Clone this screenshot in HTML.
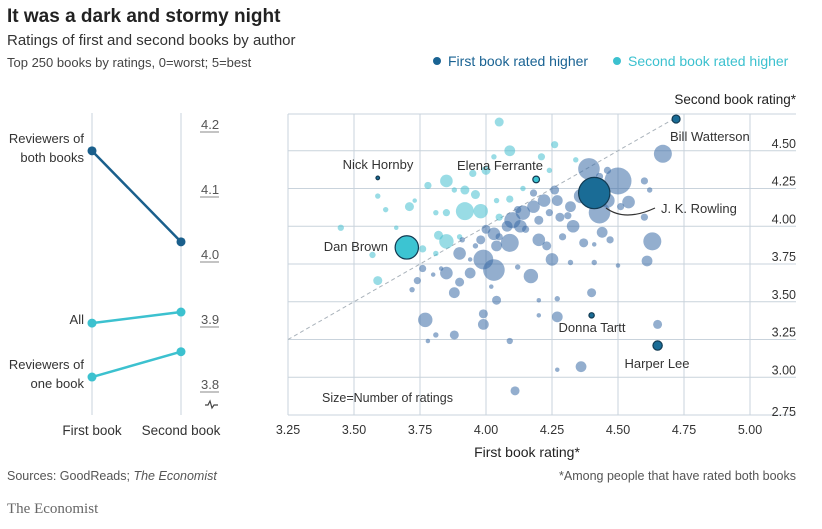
<!DOCTYPE html>
<html><head><meta charset="utf-8"><style>
html,body{margin:0;padding:0;background:#fff;}
svg{display:block;font-family:"Liberation Sans",sans-serif;}
</style></head><body>
<svg id="c" width="822" height="529" viewBox="0 0 822 529">
<text x="7" y="22" font-size="19" font-weight="bold" fill="#222">It was a dark and stormy night</text>
<text x="7" y="45" font-size="15" fill="#333">Ratings of first and second books by author</text>
<text x="7" y="67" font-size="13" fill="#444">Top 250 books by ratings, 0=worst; 5=best</text>
<g>
<circle cx="437" cy="61" r="4" fill="#1a6393"/>
<text x="448" y="66" font-size="14" fill="#1a6393">First book rated higher</text>
<circle cx="617" cy="61" r="4" fill="#3cc1cf"/>
<text x="628" y="66" font-size="14" fill="#3cc1cf">Second book rated higher</text>
</g>
<g id="left"></g>
<g id="scatter"></g>
<text x="7" y="480" font-size="12.5" fill="#555">Sources: GoodReads; <tspan font-style="italic">The Economist</tspan></text>
<text x="796" y="480" font-size="12.5" fill="#555" text-anchor="end">*Among people that have rated both books</text>
<text x="7" y="513" font-size="15" fill="#666" font-family="Liberation Serif,serif">The Economist</text>
</svg>
<script>
// slope chart data
const slopeSeries = ["Reviewers of both books","All","Reviewers of one book"];
const slopeFirst = [4.171, 3.906, 3.823];
const slopeSecond = [4.031, 3.923, 3.862];
const slopeTicks = [4.2, 4.1, 4.0, 3.9, 3.8];
// scatter data
const lightX=[4.05,4.09,4.26,4.21,4.03,3.85,3.78,3.59,3.62,3.71,3.73,3.81,3.85,3.88,3.92,3.96,3.92,3.98,3.95,4.00,4.05,4.09,4.04,3.45,3.66,3.57,3.59,3.76,3.82,3.85,3.81,4.24,4.14,4.34,3.90];
const lightY=[4.69,4.50,4.54,4.46,4.46,4.30,4.27,4.20,4.11,4.13,4.17,4.09,4.09,4.24,4.24,4.21,4.10,4.10,4.35,4.37,4.06,4.18,4.17,3.99,3.99,3.81,3.64,3.85,3.94,3.90,3.82,4.37,4.25,4.44,3.93];
const lightS=[10,12,8,8,6,14,8,6,6,10,5,6,8,6,10,10,20,16,8,10,8,8,6,7,5,7,10,8,10,16,6,6,6,6,6];
const darkX=[4.39,4.50,4.67,4.60,4.62,4.54,4.46,4.43,4.36,4.32,4.26,4.22,4.18,4.14,4.10,4.13,4.08,4.03,4.00,3.98,4.09,4.04,3.99,4.03,3.90,3.94,3.85,3.90,3.88,3.76,3.74,3.72,3.80,3.94,3.83,4.17,4.12,4.20,4.23,4.25,4.32,4.41,4.50,4.44,4.47,4.37,4.41,4.61,4.63,4.29,4.33,4.28,4.27,4.18,4.04,4.02,4.20,4.27,4.40,3.99,3.99,3.77,3.88,3.81,3.78,4.09,4.20,4.27,4.65,4.27,4.36,4.11,4.60,4.51,4.43,4.46,3.91,3.96,4.05,4.15,4.12,4.20,4.24,4.31];
const darkY=[4.38,4.30,4.48,4.30,4.24,4.16,4.37,4.33,4.20,4.13,4.24,4.17,4.13,4.09,4.04,4.00,4.00,3.95,3.98,3.91,3.89,3.87,3.78,3.71,3.82,3.69,3.69,3.63,3.56,3.72,3.64,3.58,3.68,3.78,3.72,3.67,3.73,3.91,3.87,3.78,3.76,3.76,3.74,3.96,3.91,3.89,3.88,3.77,3.90,3.93,4.00,4.06,4.17,4.22,3.51,3.60,3.51,3.52,3.56,3.42,3.35,3.38,3.28,3.28,3.24,3.24,3.41,3.40,3.35,3.05,3.07,2.91,4.06,4.13,4.09,4.17,3.91,3.87,3.93,3.98,4.11,4.04,4.09,4.07];
const darkS=[24,30,20,8,6,14,8,8,16,12,10,14,14,16,18,14,12,14,10,10,20,12,22,24,14,12,14,10,12,8,8,6,5,5,5,16,6,14,10,14,6,6,5,12,8,10,5,12,20,8,14,10,12,8,10,5,5,6,10,10,12,16,10,6,5,7,5,12,10,5,12,10,8,8,24,16,6,6,8,8,8,10,8,8];
const namedLabels=["Bill Watterson","J. K. Rowling","Dan Brown","Elena Ferrante","Nick Hornby","Donna Tartt","Harper Lee"];
const namedX=[4.72,4.41,3.70,4.19,3.59,4.40,4.65];
const namedY=[4.71,4.22,3.86,4.31,4.32,3.41,3.21];
const namedS=[12,47,35,10,5,8,14];
const namedType=["first","first","second","second","first","first","first"];
const xTicks=[3.25,3.50,3.75,4.00,4.25,4.50,4.75,5.00];
const yTicks=[4.50,4.25,4.00,3.75,3.50,3.25,3.00,2.75];

const NS="http://www.w3.org/2000/svg";
function mk(p,tag,a,txt){const e=document.createElementNS(NS,tag);for(const k in a)e.setAttribute(k,a[k]);if(txt!==undefined)e.textContent=txt;p.appendChild(e);return e;}

// ---- slope chart
const L=document.getElementById('left');
const lx1=92,lx2=181;
const ly=v=>132+(4.2-v)*650;
let e;
e=mk(L,'line',{x1:lx1,x2:lx1,y1:113,y2:415,stroke:'#c9d3dc'});


e=mk(L,'line',{x1:lx2,x2:lx2,y1:113,y2:415,stroke:'#c9d3dc'});


slopeTicks.forEach(t=>{
  e=mk(L,'text',{x:201,y:ly(t)-3,'font-size':13,fill:'#555'},t.toFixed(1));
  
  
  e=mk(L,'line',{x1:200,x2:219,y1:ly(t),y2:ly(t),stroke:'#888'});
  
  
});
e=mk(L,'path',{d:'M205 405 l3 0 l2 -4 l2 7 l2 -3 l4 0',fill:'none',stroke:'#444','stroke-width':1.2});


const slopeCol=['#1a5f8c','#3cc1cf','#3cc1cf'];
slopeSeries.forEach((s,i)=>{
  const c=slopeCol[i];
  e=mk(L,'line',{x1:lx1,y1:ly(slopeFirst[i]),x2:lx2,y2:ly(slopeSecond[i]),stroke:c,'stroke-width':2.5});
  
  
  e=mk(L,'circle',{cx:lx1,cy:ly(slopeFirst[i]),r:4.5,fill:c});
  
  
  e=mk(L,'circle',{cx:lx2,cy:ly(slopeSecond[i]),r:4.5,fill:c});
  
  
  const words=s==='All'?['All']:[s.replace(/ (both|one) books?$/,''),s.replace(/^Reviewers of /,'')];
  const y0=ly(slopeFirst[i])+5-(words.length-1)*9;
  words.forEach((w,j)=>{
    e=mk(L,'text',{x:84,y:y0+j*19-4,'font-size':13,fill:'#333','text-anchor':'end'},w);
    
    
  });
});
e=mk(L,'text',{x:lx1,y:435,'font-size':13.5,fill:'#333','text-anchor':'middle'},'First book');


e=mk(L,'text',{x:lx2,y:435,'font-size':13.5,fill:'#333','text-anchor':'middle'},'Second book');



// ---- scatter
const S=document.getElementById('scatter');
const X=v=>288+(v-3.25)*264;
const Y=v=>415-(v-2.75)*151;
const R=s=>Math.max(2,s/3*1.35);
const RN=s=>Math.max(1.8,s/3);
e=mk(S,'line',{x1:288,x2:796,y1:114,y2:114,stroke:'#c9d3dc'});


xTicks.forEach(t=>{
  e=mk(S,'line',{x1:X(t),x2:X(t),y1:114,y2:415,stroke:'#c9d3dc'});
  
  
  e=mk(S,'text',{x:X(t),y:434,'font-size':12.5,fill:'#333','text-anchor':'middle'},t.toFixed(2));
  
  
});
yTicks.forEach(t=>{
  e=mk(S,'line',{x1:288,x2:796,y1:Y(t),y2:Y(t),stroke:'#c9d3dc'});
  
  
  e=mk(S,'text',{x:796,y:Y(t)-3-(t===2.75?-4:0),'font-size':12.5,fill:'#333','text-anchor':'end'},t.toFixed(2));
  
  
});
e=mk(S,'line',{x1:X(3.25),y1:Y(3.25),x2:X(4.72),y2:Y(4.72),stroke:'#aab3bb','stroke-dasharray':'4 3'});


lightX.forEach((v,i)=>{
  e=mk(S,'circle',{cx:X(v),cy:Y(lightY[i]),r:R(lightS[i]),fill:'#46c0cf','fill-opacity':0.55});
  
  
});
darkX.forEach((v,i)=>{
  e=mk(S,'circle',{cx:X(v),cy:Y(darkY[i]),r:R(darkS[i]),fill:'#3a6ba5','fill-opacity':0.55});
  
  
});
namedLabels.forEach((n,i)=>{
  const f=namedType[i]==='first'?'#1a6c96':'#3cc4d2';
  e=mk(S,'circle',{cx:X(namedX[i]),cy:Y(namedY[i]),r:RN(namedS[i]),fill:f,stroke:'#123a52','stroke-width':1.2});
  
  
});
const lab=[[670,141,'start'],[661,213,'start'],[388,251,'end'],[500,170,'middle'],[378,169,'middle'],[592,332,'middle'],[657,368,'middle']];
namedLabels.forEach((n,i)=>{
  e=mk(S,'text',{x:lab[i][0],y:lab[i][1],'font-size':13,fill:'#333','text-anchor':lab[i][2]},n);
  
  
});
e=mk(S,'path',{d:'M606 208 Q 625 222 655 208',fill:'none',stroke:'#333','stroke-width':1.2});


e=mk(S,'text',{x:322,y:402,'font-size':12.5,fill:'#333'},'Size=Number of ratings');


e=mk(S,'text',{x:796,y:104,'font-size':13.5,fill:'#222','text-anchor':'end'},'Second book rating*');


e=mk(S,'text',{x:527,y:457,'font-size':14,fill:'#222','text-anchor':'middle'},'First book rating*');


</script>
</body></html>
